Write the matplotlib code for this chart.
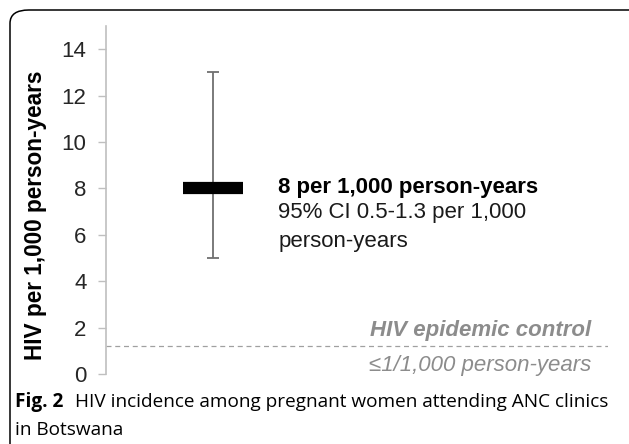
import matplotlib.pyplot as plt
from matplotlib.patches import FancyBboxPatch

plt.rcParams['font.family'] = ['Liberation Sans', 'DejaVu Sans']

# data
groups = ['ANC']
incidence = [8]
ci_low = [5]
ci_high = [13]
control_level = 1.2
yticks = [0, 2, 4, 6, 8, 10, 12, 14]

fig = plt.figure(figsize=(6.29, 4.44), dpi=100)
W, H = 629, 444

# rounded frame around the figure (cut off at right/bottom)
frame = FancyBboxPatch((10 / W, -0.2), 1.2, 1 - 10 / H + 0.2,
                       boxstyle='round,pad=0,rounding_size=0.03',
                       transform=fig.transFigure, fill=False,
                       ec='black', lw=1.1)
fig.patches.append(frame)

ax = fig.add_axes([106 / W, 70 / H, 502 / W, 348 / H])
ax.set_xlim(-0.5, 1.856)
ax.set_ylim(0, 15)

xs = list(range(len(groups)))
lo = [m - l for m, l in zip(incidence, ci_low)]
hi = [h - m for m, h in zip(incidence, ci_high)]
ax.errorbar(xs, incidence, yerr=[lo, hi], fmt='none', ecolor='#707070',
            elinewidth=1.3, capsize=4.5, capthick=1.3, zorder=2)
ax.plot(xs, incidence, ls='', marker='_', ms=43, mew=8.8, color='black',
        zorder=3)

ax.axhline(control_level, color='#a0a0a0', lw=0.9, ls=(0, (4, 3)),
           xmax=1.0, zorder=1)

fs = 16
tr = ax.get_yaxis_transform()
ax.text(0.343, 8.06, '8 per 1,000 person-years', transform=tr,
        fontsize=fs, fontweight='bold', va='center', ha='left', color='black')
ax.text(0.343, 6.94, '95% CI 0.5-1.3 per 1,000', transform=tr, fontsize=fs,
        va='center', ha='left', color='#1a1a1a')
ax.text(0.343, 5.69, 'person-years', transform=tr, fontsize=fs,
        va='center', ha='left', color='#1a1a1a')
ax.text(0.967, 1.88, 'HIV epidemic control', transform=tr, fontsize=fs,
        fontweight='bold', fontstyle='italic', color='#8c8c8c',
        ha='right', va='center')
ax.text(0.967, 0.38, '≤1/1,000 person-years', transform=tr, fontsize=fs,
        fontstyle='italic', color='#8c8c8c', ha='right', va='center')

ax.set_yticks(yticks)
ax.set_xticks([])
ax.tick_params(axis='y', labelsize=fs, labelcolor='#262626', color='#bfbfbf',
               length=6, width=1, pad=8)
for s in ['top', 'right', 'bottom']:
    ax.spines[s].set_visible(False)
ax.spines['left'].set_color('#bfbfbf')
ax.spines['left'].set_linewidth(1.2)
ax.set_ylabel('HIV per 1,000 person-years', fontsize=16.3, fontweight='bold')
ax.yaxis.set_label_coords(-59 / 502, 0.457)

# caption
cap_font = ['Open Sans', 'DejaVu Sans']
cfs = 13.7
fig.text(15 / W, 1 - 402 / H, 'Fig. 2', family=cap_font, fontsize=cfs,
         fontweight='bold', va='center', ha='left')
fig.text(75 / W, 1 - 402 / H,
         'HIV incidence among pregnant women attending ANC clinics',
         family=cap_font, fontsize=cfs, va='center', ha='left')
fig.text(15 / W, 1 - 430 / H, 'in Botswana', family=cap_font, fontsize=cfs,
         va='center', ha='left')

fig.savefig('out.png', dpi=100)
